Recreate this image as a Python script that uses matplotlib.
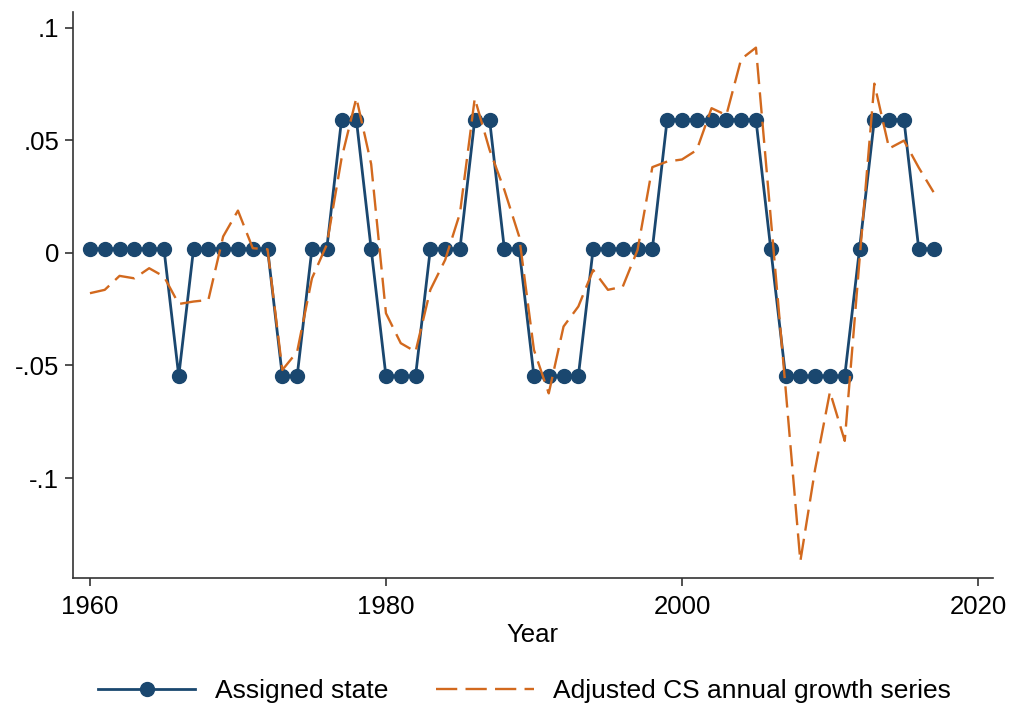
import numpy as np
import matplotlib.pyplot as plt

plt.rcParams['font.family'] = ['Liberation Sans', 'DejaVu Sans']

years = list(range(1960, 2018))

# assigned state (three levels)
lo, mid, hi = -0.0547, 0.0018, 0.0592
state = [mid] * 6 + [lo] + [mid] * 6 + [lo] * 2 + [mid] * 2 + [hi] * 2 + [mid] \
    + [lo] * 3 + [mid] * 3 + [hi] * 2 + [mid] * 2 + [lo] * 4 + [mid] * 5 \
    + [hi] * 7 + [mid] + [lo] * 5 + [mid] + [hi] * 3 + [mid] * 2

# adjusted CS annual growth series
growth = [-0.0179, -0.0164, -0.0102, -0.0113, -0.0068, -0.0105,
          -0.0227, -0.0216, -0.0209, 0.0073, 0.0188, 0.0021, 0.0016,
          -0.0520, -0.0439, -0.0113, 0.0036, 0.0420, 0.0689, 0.0395,
          -0.0268, -0.0401, -0.0439, -0.0164, -0.0031, 0.0176,
          0.0687, 0.0458, 0.0280, 0.0073, -0.0431, -0.0624, -0.0327,
          -0.0238, -0.0076, -0.0164, -0.0150, 0.0013, 0.0381, 0.0406,
          0.0415, 0.0457, 0.0643, 0.0612, 0.0861, 0.0912, 0.0156,
          -0.0600, -0.1370, -0.0960, -0.0617, -0.0835, -0.0030,
          0.0752, 0.0464, 0.0499, 0.0379, 0.0270]

navy = '#1a476f'
orange = '#d2691e'

fig = plt.figure(figsize=(10.13, 7.1), dpi=100)
ax = fig.add_axes([0.072, 0.186, 0.908, 0.797])

ax.plot(years, state, color=navy, lw=2.0, marker='o', ms=10,
        label='Assigned state')
ax.plot(years, growth, color=orange, lw=1.7, dashes=(9, 3.5),
        label='Adjusted CS annual growth series')

ax.set_xlim(1958.85, 2021.0)
ax.set_ylim(-0.1444, 0.107)
ax.set_xticks([1960, 1980, 2000, 2020])
ax.set_yticks([0.1, 0.05, 0, -0.05, -0.1])
ax.set_yticklabels(['.1', '.05', '0', '-.05', '-.1'])
ax.tick_params(labelsize=18.5, length=6, width=1.2, color='#333333')
ax.tick_params(axis='x', pad=6)
ax.tick_params(axis='y', pad=4)
ax.set_xlabel('Year', fontsize=18.5, labelpad=3)

for s in ['top', 'right']:
    ax.spines[s].set_visible(False)
for s in ['left', 'bottom']:
    ax.spines[s].set_linewidth(1.2)
    ax.spines[s].set_color('#333333')

ax.legend(loc='center', bbox_to_anchor=(0.491, -0.2), ncol=2, frameon=False,
          fontsize=19, handlelength=3.7, columnspacing=1.8, handletextpad=0.75)

fig.savefig('out.png', dpi=100)
